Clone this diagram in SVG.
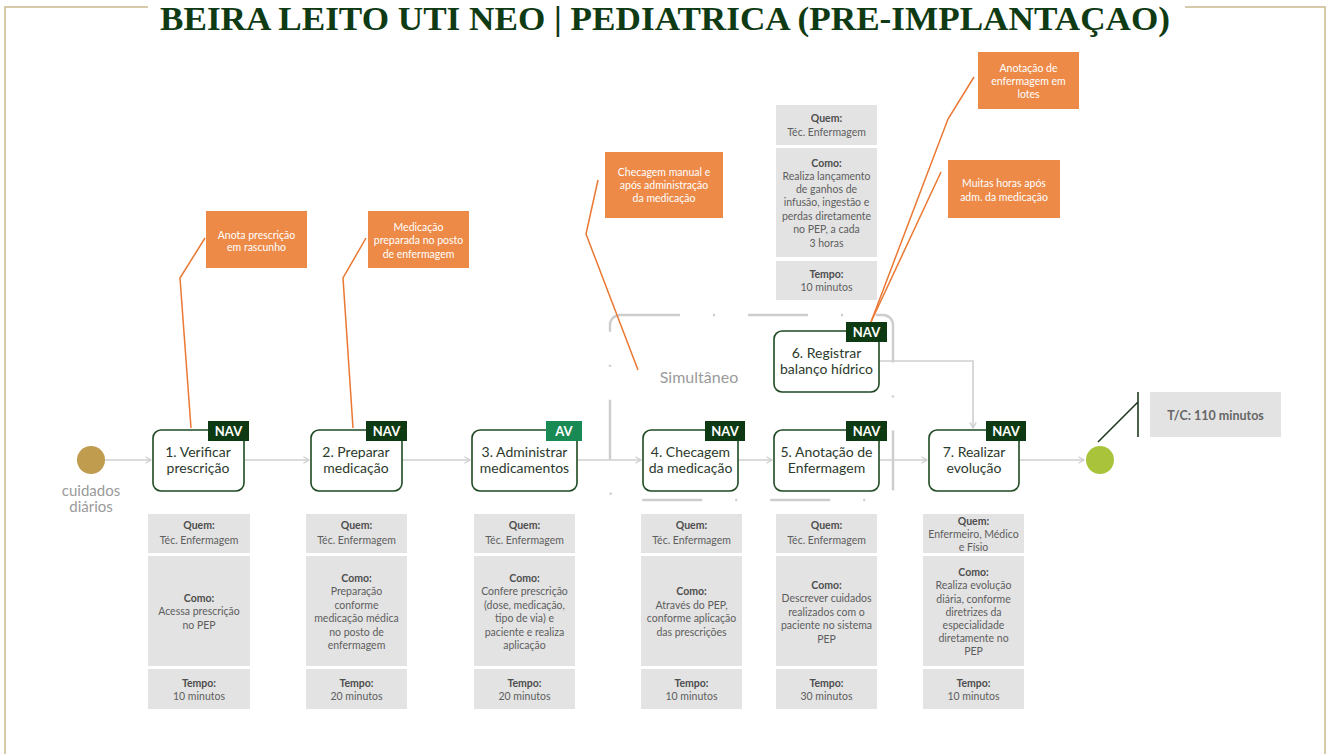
<svg xmlns="http://www.w3.org/2000/svg" width="1330" height="754" viewBox="0 0 1330 754">
<defs>
<style>
.frame{fill:none;stroke:#c9b98f;stroke-width:1.5}
.title{font-family:"Liberation Serif",serif;font-weight:bold;font-size:34px;fill:#0f3b14}
.node{fill:#fff;stroke:#1f4a23;stroke-width:1.6}
.nl{font-family:Lato,"Liberation Sans",sans-serif;font-size:14px;fill:#2c3a2c;text-anchor:middle}
.tag{fill:#0d3a12}
.tagav{fill:#1a8a55}
.tt{font-family:Lato,"Liberation Sans",sans-serif;font-weight:bold;font-size:13px;fill:#fff;text-anchor:middle}
.gb{fill:#e3e3e3}
.g{font-family:Lato,"Liberation Sans",sans-serif;font-size:10.5px;fill:#5e5e5e;text-anchor:middle}
.gbold{font-weight:bold;fill:#4e4e4e}
.ob{fill:#ed8a48}
.o{font-family:Lato,"Liberation Sans",sans-serif;font-size:10.5px;fill:#fff;text-anchor:middle}
.lead{fill:none;stroke:#ea7833;stroke-width:1.5}
.conn{fill:none;stroke:#cfcfcf;stroke-width:1.6}
.sim{fill:none;stroke:#cdcdcd;stroke-width:2.5;stroke-dasharray:60 33 2 33}
.lbl{font-family:Lato,"Liberation Sans",sans-serif;font-size:16px;fill:#9a9a9a;text-anchor:middle}
.lbl2{font-family:Lato,"Liberation Sans",sans-serif;font-size:15px;fill:#9a9a9a;text-anchor:middle}
</style>
<marker id="arr" viewBox="0 0 10 10" refX="8" refY="5" markerWidth="8" markerHeight="8" orient="auto" markerUnits="userSpaceOnUse">
<path d="M1,1 L8,5 L1,9" fill="none" stroke="#cfcfcf" stroke-width="1.6"/>
</marker>
</defs>
<rect width="1330" height="754" fill="#fff"/>
<g id="frame">
<path class="frame" d="M5,754 V7 H148 M1185,7 H1325 V754"/>
<text class="title" x="665" y="30" text-anchor="middle" textLength="1010" lengthAdjust="spacingAndGlyphs">BEIRA LEITO UTI NEO | PEDIATRICA (PRE-IMPLANTAÇAO)</text>
</g>

<g id="simultaneo">
<rect class="sim" x="610" y="315" width="283" height="185" rx="10"/>
<text class="lbl" x="699" y="383">Simultâneo</text>
</g>

<g id="connectors">
<path class="conn" d="M105,460 H151" marker-end="url(#arr)"/>
<path class="conn" d="M244,460 H309" marker-end="url(#arr)"/>
<path class="conn" d="M401,460 H470" marker-end="url(#arr)"/>
<path class="conn" d="M577,460 H641" marker-end="url(#arr)"/>
<path class="conn" d="M738,460 H772" marker-end="url(#arr)"/>
<path class="conn" d="M879,460 H927" marker-end="url(#arr)"/>
<path class="conn" d="M1019,460 H1084" marker-end="url(#arr)"/>
<path class="conn" d="M879,361 H973 V428" marker-end="url(#arr)"/>
<path class="lead" d="M205,238 L180,278 L191,428"/>
<path class="lead" d="M366,238 L343,278 L353,428"/>
<path class="lead" d="M598,180 L586,234 L638,370"/>
<path class="lead" d="M974,77 L948,119 L871,322"/>
<path class="lead" d="M941,172 L871,322"/>
<path d="M1098,442 L1138,402 M1138,392 V437" fill="none" stroke="#1e3d1e" stroke-width="1.6"/>
</g>

<g id="start">
<circle cx="91" cy="460" r="14" fill="#c09c4e"/>
<text class="lbl2" x="91" y="496">cuidados</text>
<text class="lbl2" x="91" y="512">diários</text>
</g>
<g id="end">
<circle cx="1100" cy="460" r="14" fill="#a9c43b"/>
</g>

<g id="n1">
<rect class="node" x="153" y="430" width="91" height="61" rx="8"/>
<rect class="tag" x="208" y="421" width="41" height="20"/>
<text class="tt" x="228.5" y="436">NAV</text>
<text class="nl" x="198" y="457">1. Verificar</text>
<text class="nl" x="198" y="473">prescrição</text>
</g>
<g id="n2">
<rect class="node" x="311" y="430" width="91" height="61" rx="8"/>
<rect class="tag" x="366" y="421" width="41" height="20"/>
<text class="tt" x="386.5" y="436">NAV</text>
<text class="nl" x="356" y="457">2. Preparar</text>
<text class="nl" x="356" y="473">medicação</text>
</g>
<g id="n3">
<rect class="node" x="472" y="430" width="105" height="61" rx="8"/>
<rect class="tagav" x="546" y="421" width="36" height="20"/>
<text class="tt" x="564" y="436">AV</text>
<text class="nl" x="524.5" y="457">3. Administrar</text>
<text class="nl" x="524.5" y="473">medicamentos</text>
</g>
<g id="n4">
<rect class="node" x="643" y="430" width="95" height="61" rx="8"/>
<rect class="tag" x="705" y="421" width="40" height="20"/>
<text class="tt" x="725" y="436">NAV</text>
<text class="nl" x="690.5" y="457">4. Checagem</text>
<text class="nl" x="690.5" y="473">da medicação</text>
</g>
<g id="n5">
<rect class="node" x="774" y="430" width="105" height="61" rx="8"/>
<rect class="tag" x="846" y="421" width="41" height="20"/>
<text class="tt" x="866.5" y="436">NAV</text>
<text class="nl" x="826.5" y="457">5. Anotação de</text>
<text class="nl" x="826.5" y="473">Enfermagem</text>
</g>
<g id="n6">
<rect class="node" x="774" y="331" width="105" height="61" rx="8"/>
<rect class="tag" x="846" y="322" width="41" height="20"/>
<text class="tt" x="866.5" y="337">NAV</text>
<text class="nl" x="826.5" y="358">6. Registrar</text>
<text class="nl" x="826.5" y="374">balanço hídrico</text>
</g>
<g id="n7">
<rect class="node" x="929" y="430" width="90" height="61" rx="8"/>
<rect class="tag" x="986" y="421" width="40" height="20"/>
<text class="tt" x="1006" y="436">NAV</text>
<text class="nl" x="974" y="457">7. Realizar</text>
<text class="nl" x="974" y="473">evolução</text>
</g>

<g id="callouts">
<rect class="ob" x="206" y="211" width="101" height="57"/>
<text class="o" x="256.5" y="238.5">Anota prescrição</text>
<text class="o" x="256.5" y="250.5">em rascunho</text>
<rect class="ob" x="368" y="211" width="101" height="57"/>
<text class="o" x="418.5" y="230.5">Medicação</text>
<text class="o" x="418.5" y="244">preparada no posto</text>
<text class="o" x="418.5" y="257.5">de enfermagem</text>
<rect class="ob" x="605" y="152" width="118" height="66"/>
<text class="o" x="664" y="175.5">Checagem manual e</text>
<text class="o" x="664" y="188.5">após administração</text>
<text class="o" x="664" y="201.5">da medicação</text>
<rect class="ob" x="978" y="52" width="101" height="57"/>
<text class="o" x="1028.5" y="72">Anotação de</text>
<text class="o" x="1028.5" y="85">enfermagem em</text>
<text class="o" x="1028.5" y="98">lotes</text>
<rect class="ob" x="948" y="160" width="112" height="58"/>
<text class="o" x="1004" y="187">Muitas horas após</text>
<text class="o" x="1004" y="200.5">adm. da medicação</text>
</g>

<g id="info6">
<rect class="gb" x="776" y="105" width="101" height="40"/>
<rect class="gb" x="776" y="148" width="101" height="109"/>
<rect class="gb" x="776" y="261" width="101" height="39"/>
<text class="g gbold" x="826.5" y="122">Quem:</text>
<text class="g" x="826.5" y="135.5">Téc. Enfermagem</text>
<text class="g gbold" x="826.5" y="167">Como:</text>
<text class="g" x="826.5" y="180">Realiza lançamento</text>
<text class="g" x="826.5" y="193">de ganhos de</text>
<text class="g" x="826.5" y="206">infusão, ingestão e</text>
<text class="g" x="826.5" y="220">perdas diretamente</text>
<text class="g" x="826.5" y="233">no PEP, a cada</text>
<text class="g" x="826.5" y="247">3 horas</text>
<text class="g gbold" x="826.5" y="278">Tempo:</text>
<text class="g" x="826.5" y="291">10 minutos</text>
</g>

<g id="info1">
<rect class="gb" x="148" y="514" width="102" height="39"/>
<rect class="gb" x="148" y="556" width="102" height="110"/>
<rect class="gb" x="148" y="669" width="102" height="40"/>
<text class="g gbold" x="199" y="529">Quem:</text>
<text class="g" x="199" y="544">Téc. Enfermagem</text>
<text class="g gbold" x="199" y="601.5">Como:</text>
<text class="g" x="199" y="615">Acessa prescrição</text>
<text class="g" x="199" y="628.5">no PEP</text>
<text class="g gbold" x="199" y="687">Tempo:</text>
<text class="g" x="199" y="700">10 minutos</text>
</g>
<g id="info2">
<rect class="gb" x="306" y="514" width="101" height="39"/>
<rect class="gb" x="306" y="556" width="101" height="110"/>
<rect class="gb" x="306" y="669" width="101" height="40"/>
<text class="g gbold" x="356.5" y="529">Quem:</text>
<text class="g" x="356.5" y="544">Téc. Enfermagem</text>
<text class="g gbold" x="356.5" y="581.5">Como:</text>
<text class="g" x="356.5" y="595">Preparação</text>
<text class="g" x="356.5" y="608.5">conforme</text>
<text class="g" x="356.5" y="622">medicação médica</text>
<text class="g" x="356.5" y="635.5">no posto de</text>
<text class="g" x="356.5" y="649">enfermagem</text>
<text class="g gbold" x="356.5" y="687">Tempo:</text>
<text class="g" x="356.5" y="700">20 minutos</text>
</g>
<g id="info3">
<rect class="gb" x="474" y="514" width="101" height="39"/>
<rect class="gb" x="474" y="556" width="101" height="110"/>
<rect class="gb" x="474" y="669" width="101" height="40"/>
<text class="g gbold" x="524.5" y="529">Quem:</text>
<text class="g" x="524.5" y="544">Téc. Enfermagem</text>
<text class="g gbold" x="524.5" y="581.5">Como:</text>
<text class="g" x="524.5" y="595">Confere prescrição</text>
<text class="g" x="524.5" y="608.5">(dose, medicação,</text>
<text class="g" x="524.5" y="622">tipo de via) e</text>
<text class="g" x="524.5" y="635.5">paciente e realiza</text>
<text class="g" x="524.5" y="649">aplicação</text>
<text class="g gbold" x="524.5" y="687">Tempo:</text>
<text class="g" x="524.5" y="700">20 minutos</text>
</g>
<g id="info4">
<rect class="gb" x="641" y="514" width="101" height="39"/>
<rect class="gb" x="641" y="556" width="101" height="110"/>
<rect class="gb" x="641" y="669" width="101" height="40"/>
<text class="g gbold" x="691.5" y="529">Quem:</text>
<text class="g" x="691.5" y="544">Téc. Enfermagem</text>
<text class="g gbold" x="691.5" y="595">Como:</text>
<text class="g" x="691.5" y="608.5">Através do PEP,</text>
<text class="g" x="691.5" y="622">conforme aplicação</text>
<text class="g" x="691.5" y="635.5">das prescrições</text>
<text class="g gbold" x="691.5" y="687">Tempo:</text>
<text class="g" x="691.5" y="700">10 minutos</text>
</g>
<g id="info5">
<rect class="gb" x="776" y="514" width="101" height="39"/>
<rect class="gb" x="776" y="556" width="101" height="110"/>
<rect class="gb" x="776" y="669" width="101" height="40"/>
<text class="g gbold" x="826.5" y="529">Quem:</text>
<text class="g" x="826.5" y="544">Téc. Enfermagem</text>
<text class="g gbold" x="826.5" y="588.5">Como:</text>
<text class="g" x="826.5" y="602">Descrever cuidados</text>
<text class="g" x="826.5" y="615.5">realizados com o</text>
<text class="g" x="826.5" y="629">paciente no sistema</text>
<text class="g" x="826.5" y="642.5">PEP</text>
<text class="g gbold" x="826.5" y="687">Tempo:</text>
<text class="g" x="826.5" y="700">30 minutos</text>
</g>
<g id="info7">
<rect class="gb" x="923" y="514" width="101" height="39"/>
<rect class="gb" x="923" y="556" width="101" height="110"/>
<rect class="gb" x="923" y="669" width="101" height="40"/>
<text class="g gbold" x="973.5" y="524.5">Quem:</text>
<text class="g" x="973.5" y="537.5">Enfermeiro, Médico</text>
<text class="g" x="973.5" y="550.5">e Físio</text>
<text class="g gbold" x="973.5" y="575.5">Como:</text>
<text class="g" x="973.5" y="589">Realiza evolução</text>
<text class="g" x="973.5" y="602.5">diária, conforme</text>
<text class="g" x="973.5" y="616">diretrizes da</text>
<text class="g" x="973.5" y="629">especialidade</text>
<text class="g" x="973.5" y="642">diretamente no</text>
<text class="g" x="973.5" y="655">PEP</text>
<text class="g gbold" x="973.5" y="687">Tempo:</text>
<text class="g" x="973.5" y="700">10 minutos</text>
</g>

<g id="tc">
<rect class="gb" x="1150" y="392" width="131" height="45"/>
<text x="1215.5" y="420" text-anchor="middle" font-family="Lato,'Liberation Sans',sans-serif" font-weight="bold" font-size="12.5" fill="#666">T/C: 110 minutos</text>
</g>
</svg>
